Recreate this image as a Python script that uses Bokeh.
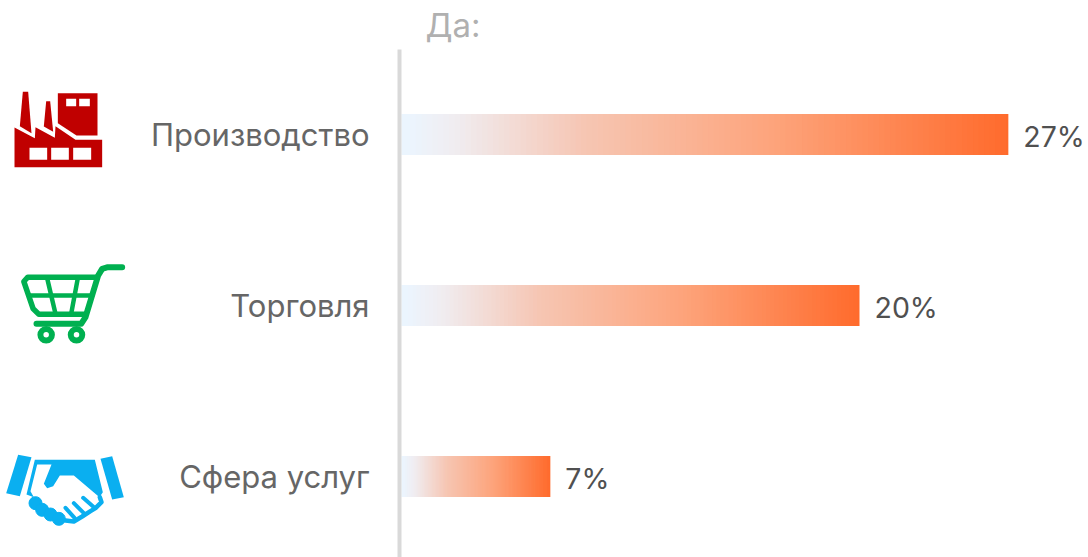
from bokeh.plotting import figure
from bokeh.models import Range1d
from bokeh.core.properties import value
from bokeh.embed import file_html
from bokeh.resources import INLINE

categories = ["Производство", "Торговля", "Сфера услуг"]
values = [26.5, 20.0, 6.5]
labels = ["27%", "20%", "7%"]
title = "Да:"
FONT = "Inter"

W, H = 1088, 557
PX_PER_UNIT = 22.9
X0 = 401
ROW0, ROW_STEP = 134, 171

p = figure(width=W, height=H, output_backend="svg", toolbar_location=None,
           x_range=Range1d(-X0 / PX_PER_UNIT, (W - X0) / PX_PER_UNIT),
           y_range=Range1d((H - ROW0) / ROW_STEP, -ROW0 / ROW_STEP),
           min_border=0, outline_line_color=None, background_fill_color="white",
           border_fill_color="white")
p.styles = {"position": "absolute", "left": "0px", "top": "0px"}
p.axis.visible = False
p.grid.visible = False
p.extra_x_ranges["px"] = Range1d(0, W)
p.extra_y_ranges["px"] = Range1d(H, 0)

# gradient bars: thin slices, each overlapping the next one a little
stops = [(0.0, (235, 245, 255)), (0.08, (240, 237, 241)), (0.3, (246, 197, 178)),
         (0.6, (253, 165, 125)), (1.0, (255, 106, 43))]


def grad(t):
    for (a, ca), (b, cb) in zip(stops, stops[1:]):
        if t <= b:
            f = (t - a) / (b - a)
            return "#%02x%02x%02x" % tuple(round(x + (y - x) * f) for x, y in zip(ca, cb))
    return "#ff6a2b"


N = 110
for i, v in enumerate(values):
    left, right, col = [], [], []
    for k in range(N):
        left.append(v * k / N)
        right.append(v * min(k + 1.6, N) / N)
        col.append(grad((k + 0.5) / N))
    left.reverse(); right.reverse(); col.reverse()
    p.hbar(y=[i] * N, left=left, right=right, height=41 / ROW_STEP, color=col, line_color=None)

# vertical axis line
p.segment(x0=[399], x1=[399], y0=[49], y1=[557], line_color="#d9d9d9", line_width=4,
          x_range_name="px", y_range_name="px")

# texts
p.text(x=[0] * 3, y=list(range(3)), text=categories, x_offset=-32, y_offset=0, text_align="right",
       text_baseline="middle", text_font=value(FONT), text_font_size="31px", text_color="#666666")
p.text(x=values, y=list(range(3)), text=labels, x_offset=15, y_offset=2, text_align="left",
       text_baseline="middle", text_font=value(FONT), text_font_size="28.5px", text_color="#505050")
p.text(x=[425], y=[24], text=[title], text_align="left", text_baseline="middle",
       text_font=value(FONT), text_font_size="33px", text_color="#b0b0b0",
       x_range_name="px", y_range_name="px")


def poly(pts, ox, oy, color):
    p.patch([ox + a / 3 for a, _ in pts], [oy + b / 3 for _, b in pts], color=color, line_color=None,
            x_range_name="px", y_range_name="px")


def path(pts, ox, oy, color, lw):
    p.line([ox + a / 3 for a, _ in pts], [oy + b / 3 for _, b in pts], line_color=color, line_width=lw,
           line_join="round", line_cap="round", x_range_name="px", y_range_name="px")


def rect(x0, y0, x1, y1, ox, oy, color):
    poly([(x0, y0), (x1, y0), (x1, y1), (x0, y1)], ox, oy, color)


# factory icon
RED = "#c00000"
ox, oy = 0, 80
poly([(42, 141), (103, 173), (105, 140), (163, 172), (165, 137), (225, 178), (305, 178), (305, 260), (42, 260)], ox, oy, RED)
poly([(58, 137), (67, 34), (83, 34), (93, 158)], ox, oy, RED)
poly([(130, 138), (137, 62), (149, 62), (158, 154)], ox, oy, RED)
poly([(172, 38), (291, 38), (291, 165), (228, 165), (172, 128)], ox, oy, RED)
for r in [(87, 202, 140, 238), (152, 202, 205, 238), (218, 202, 272, 238), (197, 55, 227, 77), (236, 55, 268, 77)]:
    rect(*r, ox, oy, "white")

# cart icon
GREEN = "#00b050"
ox, oy = 0, 255
path([(365, 35), (322, 35), (305, 40), (293, 60), (255, 185), (242, 205), (108, 205)], ox, oy, GREEN, 6)
path([(290, 65), (82, 65), (70, 78), (98, 160), (115, 176), (250, 176)], ox, oy, GREEN, 5.5)
path([(85, 120), (275, 120)], ox, oy, GREEN, 4.5)
path([(140, 68), (165, 175)], ox, oy, GREEN, 4.5)
path([(232, 68), (212, 175)], ox, oy, GREEN, 4.5)
p.scatter([137 / 3, 228 / 3], [oy + 238 / 3] * 2, size=11.5, marker="circle", fill_color="white",
          line_color=GREEN, line_width=6, x_range_name="px", y_range_name="px")

# handshake icon
BLUE = "#0aaff0"
ox, oy = 0, 440
poly([(53, 43), (93, 50), (58, 167), (17, 158)], ox, oy, BLUE)
poly([(300, 55), (335, 47), (370, 170), (335, 177)], ox, oy, BLUE)
poly([(103, 58), (283, 58), (307, 155), (297, 170), (220, 105), (178, 105), (158, 137), (140, 143), (130, 130),
      (153, 72), (110, 72), (90, 152), (100, 170), (78, 162)], ox, oy, BLUE)
path([(298, 170), (303, 185), (285, 203), (270, 212), (245, 228), (220, 243), (195, 240)], ox, oy, BLUE, 4.5)
p.scatter([105 / 3, 125 / 3, 150 / 3, 175 / 3], [oy + b / 3 for b in (188, 208, 222, 235)], size=13, marker="circle",
          color=BLUE, x_range_name="px", y_range_name="px")
for a, b in [((195, 202), (222, 232)), ((220, 188), (250, 218)), ((248, 172), (282, 202))]:
    path([a, b], ox, oy, BLUE, 4)

open("out.html", "w").write(file_html(p, INLINE))
